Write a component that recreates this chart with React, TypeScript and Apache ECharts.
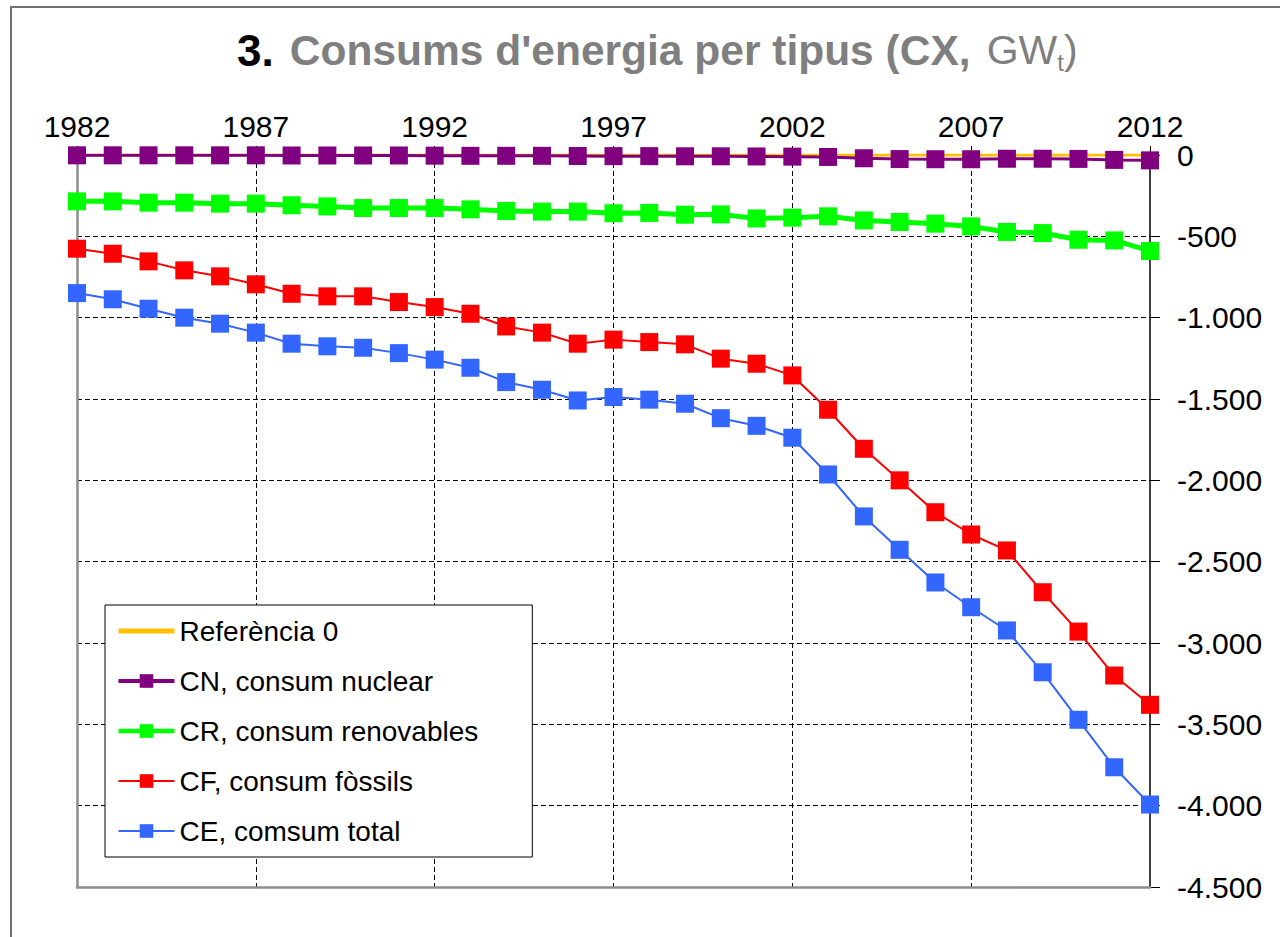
import React, { useEffect, useRef } from "react";
import * as echarts from "echarts";

const FONT = "'Liberation Sans', Arial, sans-serif";

const years = [
  "1982", "1983", "1984", "1985", "1986", "1987", "1988", "1989", "1990", "1991",
  "1992", "1993", "1994", "1995", "1996", "1997", "1998", "1999", "2000", "2001",
  "2002", "2003", "2004", "2005", "2006", "2007", "2008", "2009", "2010", "2011", "2012",
];

const seriesNames = [
  "Referència 0",
  "CN, consum nuclear",
  "CR, consum renovables",
  "CF, consum fòssils",
  "CE, comsum total",
];

const reference = [
  0, 0, 0, 0, 0, 0, 0, 0, 0, 0,
  0, 0, 0, 0, 0, 0, 0, 0, 0, 0,
  0, 0, 0, 0, 0, 0, 0, 0, 0, 0, 0,
];

const nuclear = [
  -2, -2, -2, -2, -2, -2, -3, -3, -3, -3,
  -4, -5, -5, -5, -6, -7, -7, -8, -8, -9,
  -10, -12, -20, -25, -26, -26, -23, -23, -24, -30, -33,
];

const renewables = [
  -285, -285, -293, -293, -299, -299, -309, -316, -326, -326,
  -326, -334, -344, -348, -348, -358, -356, -367, -365, -390,
  -385, -377, -402, -412, -422, -439, -473, -480, -521, -525, -590,
];

const fossils = [
  -576, -607, -654, -709, -746, -795, -853, -869, -869, -904,
  -935, -976, -1054, -1092, -1160, -1135, -1150, -1164, -1252, -1283,
  -1355, -1566, -1806, -2000, -2196, -2333, -2431, -2688, -2930, -3200, -3380,
];

const total = [
  -849, -887, -945, -1000, -1037, -1092, -1160, -1176, -1185, -1218,
  -1258, -1308, -1396, -1443, -1509, -1488, -1504, -1529, -1618, -1665,
  -1738, -1964, -2222, -2427, -2628, -2780, -2923, -3180, -3472, -3764, -3993,
];

const yMin = -4500;
const yMax = 0;
const yStep = 500;

function fmt(v: number): string {
  if (v === 0) return "0";
  const a = Math.abs(v);
  const s = a >= 1000 ? Math.floor(a / 1000) + "." + String(a % 1000).padStart(3, "0") : String(a);
  return (v < 0 ? "-" : "") + s;
}

export default function App() {
  const ref = useRef<HTMLDivElement>(null);

  useEffect(() => {
    if (!ref.current) return;
    const chart = echarts.init(ref.current, null, { renderer: "svg" });
    const colors = ["#FFC000", "#800080", "#00FF00", "#FF0000", "#3366FF"];
    const widths = [3, 3, 5, 2, 2];
    const legendWidths = [5, 4, 4.5, 2, 2];
    const datasets = [reference, nuclear, renewables, fossils, total];

    const option: any = {
      animation: false,
      backgroundColor: "#ffffff",
      title: {
        text: "{a|3.} {b|Consums d'energia per tipus (CX,} {c|GW}{d|t}{c|)}",
        left: 237,
        top: 21,
        padding: [5, 0, 0, 0],
        textStyle: {
          fontFamily: FONT,
          fontSize: 58,
          lineHeight: 48,
          fontWeight: "normal",
          color: "#7f7f7f",
          rich: {
            a: { fontFamily: FONT, fontSize: 44, fontWeight: "bold", color: "#000000", lineHeight: 48 },
            b: { fontFamily: FONT, fontSize: 42.5, fontWeight: "bold", color: "#7f7f7f", lineHeight: 48 },
            c: { fontFamily: FONT, fontSize: 41, fontWeight: "normal", color: "#7f7f7f", lineHeight: 48 },
            d: { fontFamily: FONT, fontSize: 24, fontWeight: "normal", color: "#7f7f7f", lineHeight: 24, verticalAlign: "bottom" },
          },
        },
      },
      graphic: [
        {
          type: "rect",
          silent: true,
          z: -10,
          shape: { x: 11, y: 7, width: 1300, height: 1000 },
          style: { fill: "none", stroke: "#707070", lineWidth: 2 },
        },
      ],
      legend: {
        orient: "vertical",
        left: 105,
        top: 605,
        padding: [11, 54, 11, 11],
        itemGap: 20,
        itemWidth: 56,
        itemHeight: 17,
        selectedMode: false,
        backgroundColor: "#ffffff",
        borderColor: "#000000",
        borderWidth: 1,
        textStyle: { fontFamily: FONT, fontSize: 28, color: "#000000", lineHeight: 30 },
        data: seriesNames.map((n, i) =>
          i === 0
            ? { name: n, itemStyle: { opacity: 0 }, lineStyle: { width: legendWidths[i] } }
            : { name: n, lineStyle: { width: legendWidths[i] } }
        ),
        z: 10,
      },
      grid: { left: 77, right: 130, top: 155, bottom: 50, show: false },
      xAxis: [
        {
          type: "category",
          data: years,
          boundaryGap: false,
          position: "top",
          axisLine: { show: true, onZero: false, lineStyle: { color: "#808080", width: 2 } },
          axisTick: { show: true, interval: 4, length: 9, inside: false, lineStyle: { color: "#000000" } },
          axisLabel: { interval: 4, margin: 14, fontFamily: FONT, fontSize: 30, color: "#000000" },
          splitLine: {
            show: true,
            interval: (i: number) => i % 5 === 0 && i !== 0 && i !== years.length - 1,
            lineStyle: { color: "#000000", type: [5, 3], width: 1 },
          },
        },
        {
          type: "category",
          data: years,
          boundaryGap: false,
          position: "bottom",
          z: 4,
          axisLine: { show: true, onZero: false, lineStyle: { color: "#8c8c8c", width: 2.5 } },
          axisTick: { show: false },
          axisLabel: { show: false },
          splitLine: { show: false },
        },
      ],
      yAxis: [
        {
          type: "value",
          position: "right",
          min: yMin,
          max: yMax,
          interval: yStep,
          z: 2,
          axisLine: { show: true, onZero: false, lineStyle: { color: "#000000", width: 1.5 } },
          axisTick: { show: true, length: 10, lineStyle: { color: "#000000" } },
          axisLabel: { margin: 27, fontFamily: FONT, fontSize: 30, color: "#000000", formatter: fmt },
          splitLine: { show: true, lineStyle: { color: "#000000", type: [5, 3], width: 1 } },
        },
        {
          type: "value",
          position: "left",
          min: yMin,
          max: yMax,
          interval: yStep,
          z: 4,
          axisLine: { show: true, onZero: false, lineStyle: { color: "#8c8c8c", width: 2.5 } },
          axisTick: { show: false },
          axisLabel: { show: false },
          splitLine: { show: false },
        },
      ],
      series: seriesNames.map((n, i) => ({
        name: n,
        type: "line",
        xAxisIndex: 0,
        yAxisIndex: 0,
        data: datasets[i],
        symbol: i === 0 ? "none" : "rect",
        symbolSize: 18,
        showSymbol: i !== 0,
        lineStyle: { color: colors[i], width: widths[i] },
        itemStyle: { color: colors[i] },
        emphasis: { disabled: true },
        z: 5 + i,
      })),
    };

    chart.setOption(option);
    return () => chart.dispose();
  }, []);

  return (
    <div
      ref={ref}
      style={{ position: "fixed", left: 0, top: 0, width: 1280, height: 937 }}
    />
  );
}
